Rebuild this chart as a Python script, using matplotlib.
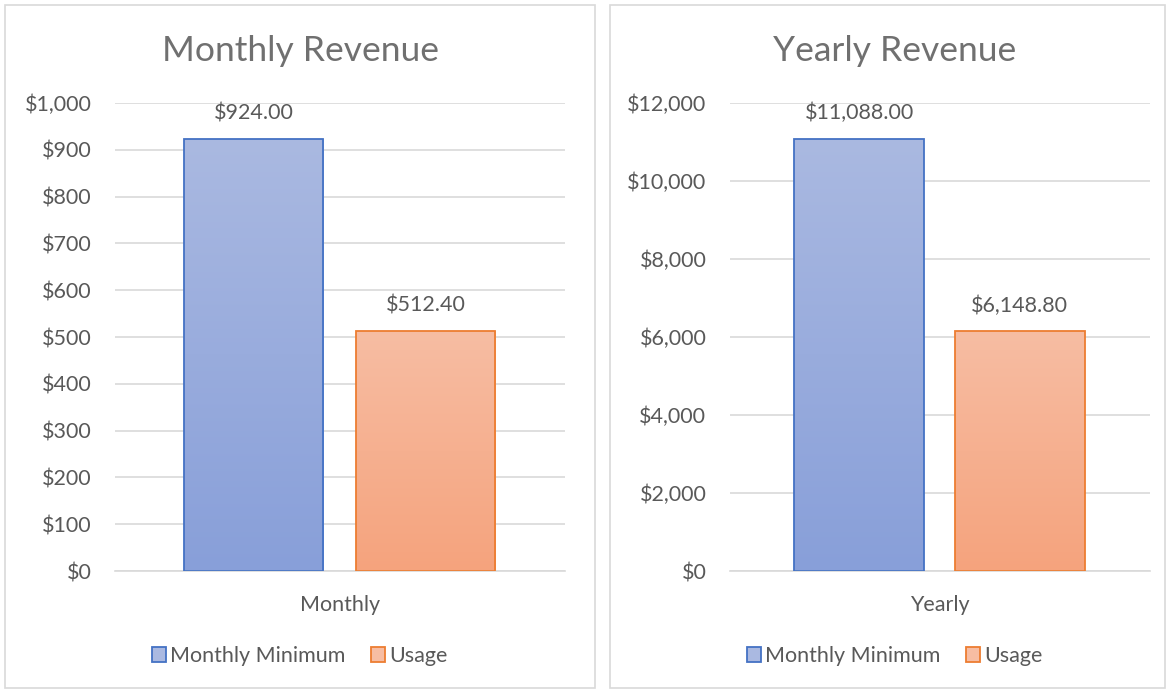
import matplotlib
matplotlib.use("Agg")
import matplotlib.pyplot as plt
import numpy as np
from matplotlib.patches import Rectangle
from matplotlib.colors import to_rgb

# ---- data ----
series_names = ["Monthly Minimum", "Usage"]
monthly_category = ["Monthly"]
monthly_values = [924.00, 512.40]
yearly_category = ["Yearly"]
yearly_values = [11088.00, 6148.80]
monthly_ticks = [0, 100, 200, 300, 400, 500, 600, 700, 800, 900, 1000]
yearly_ticks = [0, 2000, 4000, 6000, 8000, 10000, 12000]

W, H = 1169, 692
fig = plt.figure(figsize=(W / 100, H / 100), dpi=100)
FONT = ["Lato", "DejaVu Sans"]
plt.rcParams["font.family"] = FONT
TXT = "#595959"
GRID = "#D9D9D9"
FS = 15.5
edge_colors = ["#4472C4", "#ED7D31"]
grad = [("#AAB9E1", "#889FD9"), ("#F7BDA3", "#F5A37D")]

def px_axes(x0, x1, ytop, ybot):
    return fig.add_axes([x0 / W, 1 - ybot / H, (x1 - x0) / W, (ybot - ytop) / H])

# panel borders
for (x0, x1) in [(5, 595), (610, 1165)]:
    fig.patches.append(Rectangle((x0 / W, 4 / H), (x1 - x0) / W, (688 - 5) / H,
                                 transform=fig.transFigure, fill=False,
                                 edgecolor="#D9D9D9", linewidth=1.2))

def draw_panel(ax, cat, values, ticks, fmt, title, panel_center):
    offsets = [-0.192, 0.19]
    width = 0.309
    ax.set_xlim(-0.5, 0.5)
    ax.set_ylim(ticks[0], ticks[-1])
    for i, v in enumerate(values):
        bars = ax.bar([offsets[i]], [v], width=width, color="none",
                      edgecolor=edge_colors[i], linewidth=1.3, zorder=3)
        b = bars[0]
        top, bot = np.array(to_rgb(grad[i][0])), np.array(to_rgb(grad[i][1]))
        t = np.linspace(0, 1, 256)[:, None]
        img = (top[None, :] * (1 - t) + bot[None, :] * t)[:, None, :]
        im = ax.imshow(img, extent=(b.get_x(), b.get_x() + b.get_width(), 0, v),
                       origin="upper", aspect="auto", interpolation="bilinear", zorder=2)
        im.set_clip_path(b)
        ax.annotate("$" + format(v, ",.2f"), (offsets[i], v), xytext=(0, 11),
                    textcoords="offset points", ha="center", va="bottom",
                    color=TXT, fontsize=FS)
    ax.set_xlim(-0.5, 0.5)
    ax.set_ylim(ticks[0], ticks[-1])
    ax.set_yticks(ticks)
    ax.set_yticklabels([fmt(t) for t in ticks], color=TXT, fontsize=FS)
    ax.set_xticks([0])
    ax.set_xticklabels(cat, color=TXT, fontsize=FS)
    ax.tick_params(length=0)
    ax.tick_params(axis="x", pad=17)
    ax.tick_params(axis="y", pad=17)
    for s in ["top", "right", "left"]:
        ax.spines[s].set_visible(False)
    ax.spines["bottom"].set_color(GRID)
    ax.spines["bottom"].set_linewidth(1.2)
    ax.yaxis.grid(True, color=GRID, linewidth=1.2, zorder=0)
    ax.set_axisbelow(True)
    fig.text(panel_center / W, 1 - 51 / H, title, ha="center", va="center",
             color="#707070", fontsize=25.5)
    # legend
    handles = [Rectangle((0, 0), 1, 1, facecolor=grad[i][0], edgecolor=edge_colors[i], linewidth=1.3)
               for i in range(2)]
    fig.legend(handles, series_names, loc="center", bbox_to_anchor=(panel_center / W, 1 - 656 / H),
               ncol=2, frameon=False, fontsize=FS, labelcolor=TXT,
               handlelength=0.65, handleheight=0.65, handletextpad=0.2, columnspacing=1.2)

ax1 = px_axes(115, 565, 103, 571)
draw_panel(ax1, monthly_category, monthly_values, monthly_ticks,
           lambda t: "$" + format(t, ","), "Monthly Revenue", 300)
ax2 = px_axes(730, 1150, 103, 571)
draw_panel(ax2, yearly_category, yearly_values, yearly_ticks,
           lambda t: "$" + format(t, ","), "Yearly Revenue", 895)

fig.savefig("out.png", dpi=100, facecolor="white")
